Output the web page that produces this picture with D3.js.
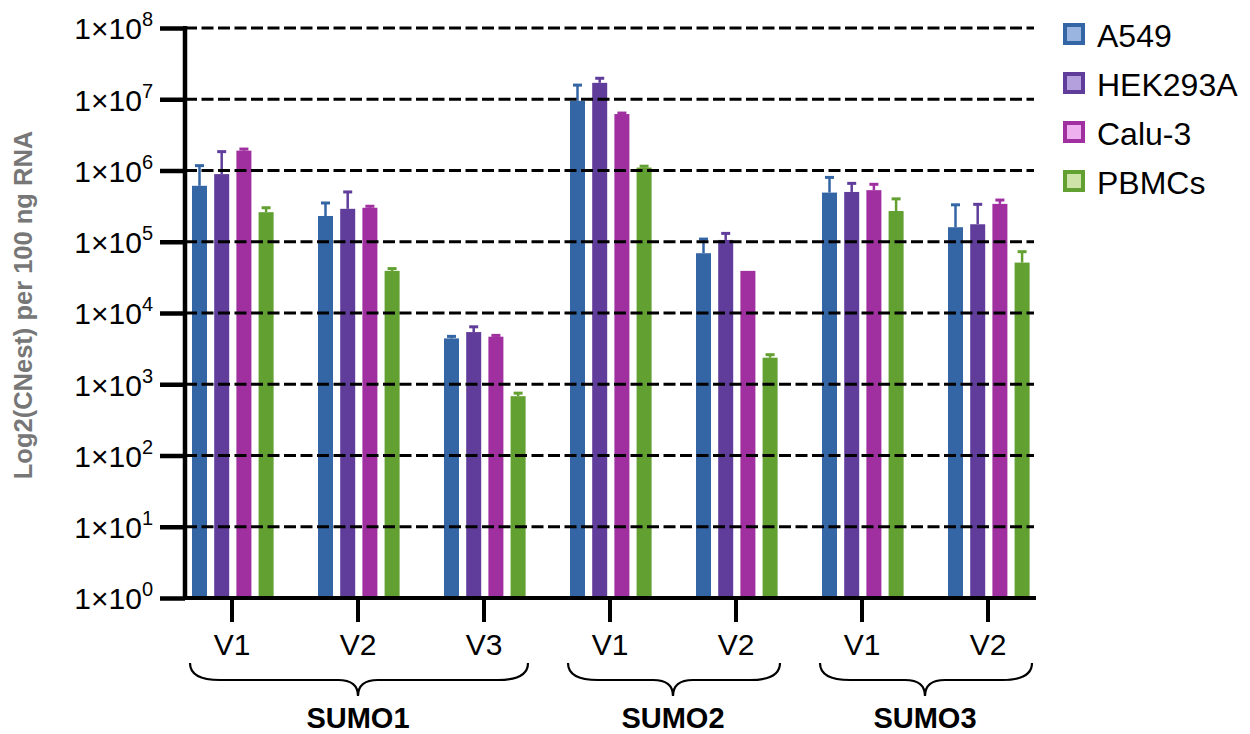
<!DOCTYPE html>
<html>
<head>
<meta charset="utf-8">
<script src="https://cdn.jsdelivr.net/npm/d3@7"></script>
<style>
  body { margin: 0; background: #fff; }
  text { font-family: Arial, "Liberation Sans", sans-serif; }
</style>
</head>
<body>
<div class="viz"></div>
<script>
// groups along the x axis
var genes = ["SUMO1", "SUMO1", "SUMO1", "SUMO2", "SUMO2", "SUMO3", "SUMO3"];
var variants = ["V1", "V2", "V3", "V1", "V2", "V1", "V2"];
var cells = ["A549", "HEK293A", "Calu-3", "PBMCs"];

// mean copy numbers per cell line (same order as variants)
var a549 = [6.1e5, 2.3e5, 4.4e3, 9.5e6, 6.9e4, 4.9e5, 1.6e5];
var hek293a = [8.9e5, 2.9e5, 5.4e3, 1.7e7, 1.06e5, 5.0e5, 1.76e5];
var calu3 = [1.9e6, 3.0e5, 4.65e3, 6.2e6, 3.9e4, 5.3e5, 3.4e5];
var pbmcs = [2.6e5, 3.9e4, 6.8e2, 1.1e6, 2.36e3, 2.7e5, 5.1e4];

// upper error (SD)
var a549Err = [5.6e5, 1.2e5, 3e2, 6.3e6, 4.0e4, 3.1e5, 1.7e5];
var hek293aErr = [9.5e5, 2.1e5, 1.0e3, 2.7e6, 2.5e4, 1.6e5, 1.59e5];
var calu3Err = [1.0e5, 1.5e4, 2e2, 2e5, 0, 1.1e5, 4.5e4];
var pbmcsErr = [4e4, 3e3, 70, 5e4, 2.4e2, 1.3e5, 2.15e4];

var yTicks = [1, 1e1, 1e2, 1e3, 1e4, 1e5, 1e6, 1e7, 1e8];

var colors = ["#3465a4", "#603d9b", "#a030a0", "#63a032"];
var lightColors = ["#9ab5e0", "#b3a0dd", "#eeb0ee", "#cde3a8"];

var w = 1250;
var h = 734;
var x0 = 185, x1 = 1036, yTop = 28, yBot = 598;

var series = [a549, hek293a, calu3, pbmcs];
var errs = [a549Err, hek293aErr, calu3Err, pbmcsErr];

var keys = d3.range(variants.length);

var xScale = d3.scaleBand()
    .domain(keys)
    .range([169, 1051]);

var xInner = d3.scaleBand()
    .domain(d3.range(cells.length))
    .range([-40, 41.6])
    .paddingInner(0.324);

var yScale = d3.scaleLog()
    .domain([1, 1e8])
    .range([yBot, yTop]);

var svg = d3.select(".viz")
    .append("svg")
    .attr("width", w)
    .attr("height", h);

svg.append("rect").attr("width", w).attr("height", h).attr("fill", "#fff");

//// BARS + ERROR BARS ////
var flat = [];
series.forEach(function(s, si) {
    s.forEach(function(v, i) {
        flat.push({ s: si, i: i, v: v, e: errs[si][i] });
    });
});

var bars = svg.append("g");

bars.selectAll("g.err")
    .data(flat.filter(function(d) { return d.e > 0; }))
    .enter()
    .append("g")
    .attr("class", "err")
    .each(function(d) {
        var cx = xScale(d.i) + xScale.bandwidth() / 2 + xInner(d.s) + xInner.bandwidth() / 2;
        var g = d3.select(this);
        g.append("line")
            .attr("x1", cx).attr("x2", cx)
            .attr("y1", yScale(d.v))
            .attr("y2", yScale(d.v + d.e))
            .attr("stroke", colors[d.s])
            .attr("stroke-width", 2.5);
        g.append("line")
            .attr("x1", cx - 4.5).attr("x2", cx + 4.5)
            .attr("y1", yScale(d.v + d.e))
            .attr("y2", yScale(d.v + d.e))
            .attr("stroke", colors[d.s])
            .attr("stroke-width", 3);
    });

bars.selectAll("rect")
    .data(flat)
    .enter()
    .append("rect")
    .attr("x", function(d) {
        return xScale(d.i) + xScale.bandwidth() / 2 + xInner(d.s);
    })
    .attr("y", function(d) { return yScale(d.v); })
    .attr("width", xInner.bandwidth())
    .attr("height", function(d) { return yBot - yScale(d.v); })
    .attr("fill", function(d) { return colors[d.s]; });

//// GRIDLINES ////
svg.append("g")
    .selectAll("line")
    .data(yTicks.slice(1))
    .enter()
    .append("line")
    .attr("x1", x0)
    .attr("x2", x1 - 2)
    .attr("y1", function(d) { return yScale(d); })
    .attr("y2", function(d) { return yScale(d); })
    .attr("stroke", "#000")
    .attr("stroke-width", 2.8)
    .attr("stroke-dasharray", "12,4.5");

//// AXES ////
var yAxis = d3.axisLeft(yScale)
    .tickValues(yTicks)
    .tickSize(25)
    .tickPadding(7)
    .tickFormat("");

var gy = svg.append("g")
    .attr("class", "y axis")
    .attr("transform", "translate(" + x0 + ",0)")
    .call(yAxis);

gy.select(".domain").remove();
gy.selectAll(".tick line").attr("stroke-width", 4.5);
gy.selectAll(".tick text")
    .attr("font-size", "30px")
    .attr("fill", "#000")
    .attr("dy", "0.36em")
    .each(function(d) {
        var t = d3.select(this);
        t.append("tspan").text("1\u00d710");
        t.append("tspan")
            .attr("dy", -13)
            .attr("font-size", "20px")
            .text(Math.round(Math.log10(d)));
    });

svg.append("line")
    .attr("x1", x0).attr("x2", x0)
    .attr("y1", yTop - 2).attr("y2", yBot + 2)
    .attr("stroke", "#000")
    .attr("stroke-width", 4.5);

var xAxis = d3.axisBottom(xScale)
    .tickSize(24)
    .tickPadding(12)
    .tickFormat(function(d, i) { return variants[i]; });

var gx = svg.append("g")
    .attr("class", "x axis")
    .attr("transform", "translate(0," + yBot + ")")
    .call(xAxis);

gx.select(".domain").remove();
gx.selectAll(".tick line").attr("stroke-width", 4);
gx.selectAll(".tick text")
    .attr("font-size", "30px")
    .attr("fill", "#000");

svg.append("line")
    .attr("x1", x0 - 2).attr("x2", x1)
    .attr("y1", yBot).attr("y2", yBot)
    .attr("stroke", "#000")
    .attr("stroke-width", 4);

//// BRACES + GENE LABELS ////
var geneNames = ["SUMO1", "SUMO2", "SUMO3"];
geneNames.forEach(function(gname) {
    var idx = keys.filter(function(i) { return genes[i] === gname; });
    var first = xScale(idx[0]) + xScale.bandwidth() / 2;
    var last = xScale(idx[idx.length - 1]) + xScale.bandwidth() / 2;
    var a = first - 42, b = last + 44, c = (first + last) / 2;
    var yt = 663, ym = 680, yp = 696;
    var p = "M" + a + "," + yt +
        " Q" + a + "," + ym + " " + (a + 30) + "," + ym +
        " L" + (c - 20) + "," + ym +
        " Q" + c + "," + ym + " " + c + "," + yp +
        " Q" + c + "," + ym + " " + (c + 20) + "," + ym +
        " L" + (b - 30) + "," + ym +
        " Q" + b + "," + ym + " " + b + "," + yt;
    svg.append("path")
        .attr("d", p)
        .attr("fill", "none")
        .attr("stroke", "#000")
        .attr("stroke-width", 2.2);
    svg.append("text")
        .attr("x", c)
        .attr("y", 728)
        .attr("text-anchor", "middle")
        .attr("font-size", "29px")
        .attr("font-weight", "bold")
        .text(gname);
});

//// Y LABEL ////
svg.append("text")
    .attr("transform", "translate(32,305) rotate(-90)")
    .attr("text-anchor", "middle")
    .attr("font-size", "25.5px")
    .attr("font-weight", "bold")
    .attr("fill", "#777")
    .text("Log2(CNest) per 100 ng RNA");

//// LEGEND ////
var legend = svg.append("g")
    .selectAll("g")
    .data(cells)
    .enter()
    .append("g")
    .attr("transform", function(d, i) {
        return "translate(1063," + (23 + i * 49) + ")";
    });

legend.append("rect")
    .attr("x", 2).attr("y", 2)
    .attr("width", 18).attr("height", 18)
    .attr("fill", function(d, i) { return lightColors[i]; })
    .attr("stroke", function(d, i) { return colors[i]; })
    .attr("stroke-width", 4);

legend.append("text")
    .attr("x", 34)
    .attr("y", 24)
    .attr("font-size", "32px")
    .attr("fill", "#000")
    .text(function(d) { return d; });
</script>
</body>
</html>
